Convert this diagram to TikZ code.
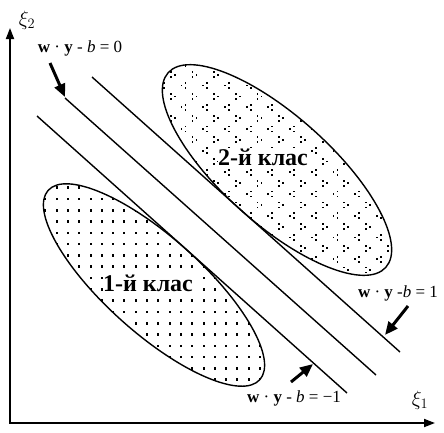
\documentclass[tikz,border=0pt]{standalone}
\usepackage{fontspec}
\setmainfont{Liberation Serif}
\usetikzlibrary{arrows.meta}
\begin{document}
\begin{tikzpicture}[x=1pt,y=-1pt,
  hyper/.style={line width=1.4pt},
  oval/.style={line width=1.4pt},
  pointer/.style={line width=3pt,-{Triangle[length=13pt,width=11pt]}},
  axis/.style={line width=1.8pt,-{Triangle[length=11pt,width=8pt]}},
  eqlabel/.style={font=\fontsize{17}{17}\selectfont,inner sep=1pt},
  classlabel/.style={font=\fontsize{24}{24}\selectfont\bfseries,fill=white,inner sep=0.5pt},
  axlabel/.style={font=\fontsize{22}{22}\selectfont,inner sep=0pt},
  gt/.pic={\fill (-2.9,-3.4) rectangle ++(1.8,1.8); \fill (1.1,-0.9) rectangle ++(1.8,1.8); \fill (-2.9,1.6) rectangle ++(1.8,1.8);},
  lt/.pic={\fill (1.1,-3.4) rectangle ++(1.8,1.8); \fill (-2.9,-0.9) rectangle ++(1.8,1.8); \fill (1.1,1.6) rectangle ++(1.8,1.8);}]
\useasboundingbox (0,0) rectangle (444,432);

% axes
\coordinate (O) at (10,423);
\coordinate (Ytip) at (10,28);
\coordinate (Xtip) at (435,423);
\draw[axis] (O) -- (Ytip);
\draw[axis] ([xshift=-0.9pt]O) -- (Xtip);
\node[axlabel] (xi2) at (27,20) {$\xi_2$};
\node[axlabel] (xi1) at (420,400) {$\xi_1$};

% class 1 ellipse with dot pattern
\begin{scope}
  \clip[rotate around={-41.8:(154,285)}] (154,285) ellipse [x radius=142pt, y radius=48pt];
  \foreach \x in {33,44.3,...,280} \foreach \y in {175,186.3,...,400} {\fill (\x,\y) rectangle ++(2,2.6);}
\end{scope}
\draw[oval,rotate around={-41.8:(154,285)}] (154,285) ellipse [x radius=142pt, y radius=48pt];

% class 2 ellipse with chevron pattern
\begin{scope}
  \clip[rotate around={-41.8:(277,170)}] (277,170) ellipse [x radius=146pt, y radius=54pt];
  \foreach \x in {151,172.7,...,420} \foreach \y in {53,74.7,...,295} {\pic at (\x,\y) {gt}; \pic at ({\x+10.8},{\y+10.8}) {lt};}
\end{scope}
\draw[oval,rotate around={-41.8:(277,170)}] (277,170) ellipse [x radius=146pt, y radius=54pt];

% hyperplanes
\coordinate (Pa) at (92,77);   \coordinate (Pb) at (400,352);
\coordinate (Ma) at (65,98);   \coordinate (Mb) at (376,375);
\coordinate (Na) at (37,116);  \coordinate (Nb) at (347,393);
\draw[hyper] (Pa) -- (Pb);
\draw[hyper] (Ma) -- (Mb);
\draw[hyper] (Na) -- (Nb);

% class labels
\node[classlabel] (c1) at (148,283) {1-й клас};
\node[classlabel] (c2) at (263,157) {2-й клас};

% equation labels
\node[eqlabel] (e0) at (80,48) {\textbf{w} · \textbf{y} - \textit{b} = 0};
\node[eqlabel] (e1) at (398,293) {\textbf{w} · \textbf{y} -\textit{b} = 1};
\node[eqlabel] (e2) at (294,398) {\textbf{w} · \textbf{y} - \textit{b} = −1};

% pointers
\coordinate (s0) at (50,63);   \coordinate (t0) at (65,97);
\coordinate (s1) at (408,306); \coordinate (t1) at (385,335);
\coordinate (s2) at (291,382); \coordinate (t2) at (313,364);
\draw[pointer] (s0) -- (t0);
\draw[pointer] (s1) -- (t1);
\draw[pointer] (s2) -- (t2);
\end{tikzpicture}
\end{document}
